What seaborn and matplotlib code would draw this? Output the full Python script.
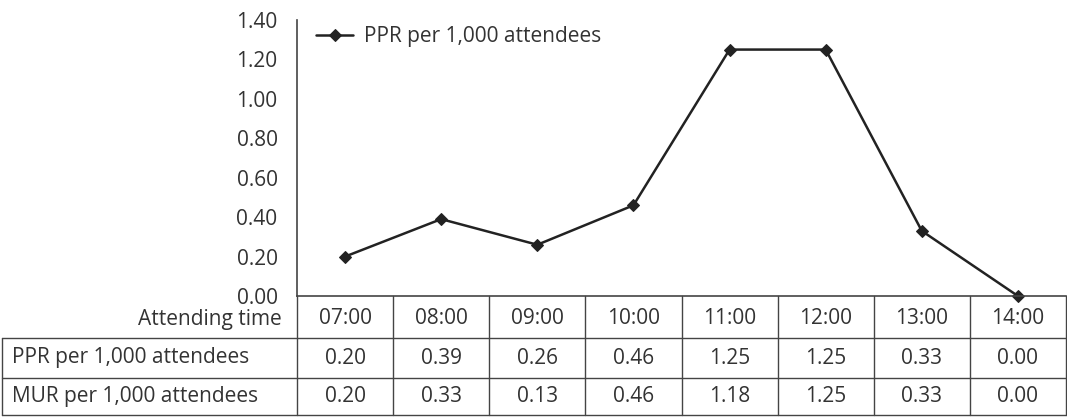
import numpy as np
import pandas as pd
import seaborn as sns
import matplotlib.pyplot as plt
import matplotlib.transforms as mtransforms

times = ["07:00", "08:00", "09:00", "10:00", "11:00", "12:00", "13:00", "14:00"]
ppr = [0.20, 0.39, 0.26, 0.46, 1.25, 1.25, 0.33, 0.00]
mur = [0.20, 0.33, 0.13, 0.46, 1.18, 1.25, 0.33, 0.00]
row_labels = ["Attending time", "PPR per 1,000 attendees", "MUR per 1,000 attendees"]
yticks = [0.0, 0.2, 0.4, 0.6, 0.8, 1.0, 1.2, 1.4]

sns.set_style("white")
plt.rcParams["font.family"] = ["Open Sans", "DejaVu Sans"]
plt.rcParams["font.size"] = 15

ink = "#222222"
txt = "#333333"
grid = "#444444"
df = pd.DataFrame({"time": times, "ppr": ppr})

fig = plt.figure(figsize=(10.67, 4.18), dpi=100)
ax_h = 276
ax_w = 769
ax = fig.add_axes([297 / 1067, 1 - 296 / 418, ax_w / 1067, ax_h / 418])

sns.lineplot(data=df, x="time", y="ppr", ax=ax, color=ink, linewidth=1.8,
             marker="D", markersize=6.5, markeredgecolor=ink, clip_on=False,
             label="PPR per 1,000 attendees")
ax.set_xlim(-0.5, len(times) - 0.5)
ax.set_ylim(0, 1.4)
ax.set_yticks(yticks)
ax.set_yticklabels([f"{v:.2f}" for v in yticks], color=txt)
ax.tick_params(axis="y", direction="out", length=8.5, width=1.2, color=grid, pad=5.5)
ax.tick_params(axis="x", bottom=False, labelbottom=False)
ax.set_xlabel("")
ax.set_ylabel("")
for s in ["top", "right"]:
    ax.spines[s].set_visible(False)
for s in ["left", "bottom"]:
    ax.spines[s].set_color(grid)
    ax.spines[s].set_linewidth(1.2)

leg = ax.legend(loc="upper left", frameon=False, handlelength=1.8, handletextpad=0.5,
                bbox_to_anchor=(0.0, 1.045), borderaxespad=0.5)
for t in leg.get_texts():
    t.set_color(txt)

# data table under the plot: x in data units, y in axes units
trans = mtransforms.blended_transform_factory(ax.transData, ax.transAxes)
col_w = ax_w / len(times)           # pixels per category
lab_left = -0.5 - 295 / col_w       # left edge of the label column
right = len(times) - 0.5
row_edges = [0, -42 / ax_h, -82 / ax_h, -119 / ax_h]
cell_text = [times, [f"{v:.2f}" for v in ppr], [f"{v:.2f}" for v in mur]]

line_kw = dict(color=grid, lw=1.0, transform=trans, clip_on=False)
# horizontal rules
for e in row_edges[1:]:
    ax.plot([lab_left, right], [e, e], **line_kw)
# vertical rules
for k in range(len(times) + 1):
    ax.plot([k - 0.5] * 2, [row_edges[0], row_edges[3]], **line_kw)
ax.plot([lab_left] * 2, [row_edges[1], row_edges[3]], **line_kw)

for r, (label, vals) in enumerate(zip(row_labels, cell_text)):
    yc = (row_edges[r] + row_edges[r + 1]) / 2
    if r == 0:
        yc -= 2 / ax_h
        ax.text(-0.5 - 0.16, yc, label, ha="right", va="center", color=txt,
                transform=trans, clip_on=False)
    else:
        ax.text(lab_left + 0.1, yc, label, ha="left", va="center", color=txt,
                transform=trans, clip_on=False)
    for i, v in enumerate(vals):
        ax.text(i, yc, v, ha="center", va="center", color=txt,
                transform=trans, clip_on=False)

fig.savefig("out.png", dpi=100)
